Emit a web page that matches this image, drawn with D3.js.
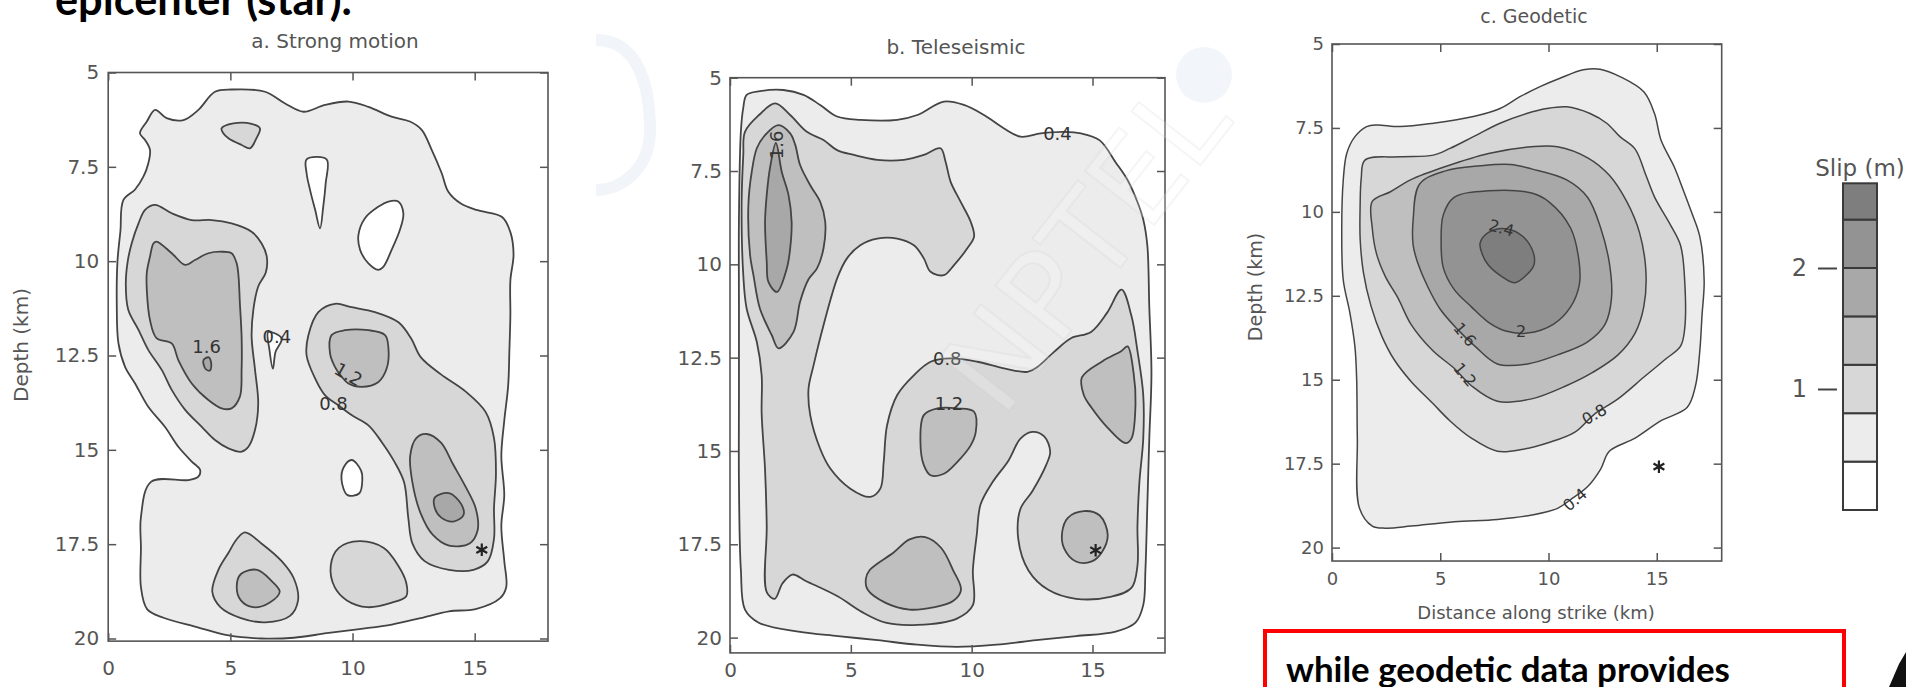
<!DOCTYPE html>
<html>
<head>
<meta charset="utf-8">
<script src="https://cdn.jsdelivr.net/npm/d3@7"></script>
<style>
  body { margin: 0; background: #fff; }
  svg { display: block; }
</style>
</head>
<body>
<svg id="chart" width="1906" height="687"></svg>
<script>
// slip contour levels (m) and the grey used above each level
const levels = [0.4, 0.8, 1.2, 1.6, 2.0, 2.4];
const slipColors = ["#ffffff", "#ececec", "#d7d7d7", "#bfbfbf", "#a8a8a8", "#939393", "#7e7e7e"];
const depthTicks = [5, 7.5, 10, 12.5, 15, 17.5, 20];
const strikeTicks = [0, 5, 10, 15];
const slipTicks = [1, 2];
const slipBandEdges = [0, 0.4, 0.8, 1.2, 1.6, 2.0, 2.4, 2.7];

// contour rings: [slip level, [[km along strike, depth km], ...]]  level 0 = hole below 0.4
const strongRings = [
  [0.4, [[0.62,8.38],[1.1,8.1],[1.44,7.76],[1.64,7.41],[1.71,7.05],[1.51,6.79],[1.3,6.61],[1.58,6.3],[1.92,5.99],[2.39,6.21],[3.08,6.26],[3.69,5.99],[4.37,5.51],[5.05,5.45],[6.42,5.51],[7.24,5.82],[7.99,6.04],[8.87,5.86],[9.83,5.77],[10.65,5.91],[11.6,6.17],[12.35,6.3],[12.83,6.52],[13.24,7.05],[13.65,7.67],[13.92,8.16],[14.45,8.48],[15.12,8.65],[16.12,8.83],[16.46,9.23],[16.59,9.82],[16.46,10.51],[16.46,11.44],[16.42,12.37],[16.37,13.3],[16.21,14.23],[16.09,15.16],[16.21,16.2],[16.09,17.02],[16.21,17.94],[16.29,18.64],[16.04,18.93],[15.04,19.22],[13.95,19.28],[12.78,19.46],[11.61,19.63],[10.28,19.75],[8.94,19.86],[7.6,19.98],[6.27,20.0],[4.93,19.92],[3.59,19.69],[2.26,19.45],[1.59,19.22],[1.34,18.64],[1.34,17.6],[1.34,16.78],[1.75,15.85],[3.28,15.8],[3.69,15.71],[3.76,15.53],[3.42,15.31],[2.87,14.92],[2.32,14.39],[1.64,13.86],[1.1,13.24],[0.69,12.8],[0.42,12.18],[0.35,11.12],[0.38,10.0],[0.5,9.2]]],
  [0, [[8.12,7.3],[8.94,7.3],[8.9,7.94],[8.8,8.56],[8.67,9.13],[8.47,8.64],[8.26,8.11],[8.12,7.67]]],
  [0, [[11.87,8.42],[12.08,8.73],[11.94,9.17],[11.6,9.7],[11.26,10.15],[11.05,10.23],[10.65,10.06],[10.31,9.7],[10.24,9.31],[10.51,8.86],[11.05,8.56],[11.47,8.42]]],
  [0, [[9.97,15.27],[10.35,15.55],[10.4,15.8],[10.28,16.15],[9.8,16.2],[9.55,15.8],[9.65,15.45]]],
  [0, [[6.55,11.88],[7.1,12.05],[6.85,12.4],[6.74,12.85],[6.6,12.35]]],
  [0.8, [[4.64,6.48],[5.12,6.35],[5.87,6.36],[6.21,6.48],[6.07,6.74],[5.8,7.01],[5.46,6.92],[4.92,6.74],[4.71,6.61]]],
  [0.8, [[1.92,8.51],[2.6,8.73],[3.42,8.91],[4.24,8.91],[5.05,9.0],[5.87,9.22],[6.28,9.53],[6.49,9.88],[6.45,10.3],[6.14,10.67],[5.94,11.29],[5.87,12.0],[6.01,12.88],[6.14,13.77],[6.01,14.47],[5.74,14.92],[5.46,15.05],[4.92,14.96],[4.37,14.74],[3.83,14.39],[3.15,13.94],[2.6,13.41],[2.19,12.88],[1.64,12.35],[1.24,11.82],[0.82,11.29],[0.72,10.6],[0.8,10.0],[0.96,9.53],[1.24,9.0],[1.51,8.64]]],
  [0.8, [[9.28,11.13],[9.96,11.22],[10.92,11.35],[11.88,11.62],[12.4,12.05],[12.8,12.55],[13.62,13.0],[14.62,13.45],[15.45,14.0],[15.79,14.69],[15.87,15.62],[15.79,16.55],[15.79,17.36],[15.54,17.95],[14.95,18.18],[13.95,18.18],[12.95,17.95],[12.45,17.48],[12.28,16.79],[12.11,15.86],[11.7,15.3],[11.19,14.79],[10.65,14.35],[9.96,14.08],[9.42,13.82],[8.87,13.55],[8.47,13.11],[8.12,12.5],[8.19,11.97],[8.6,11.35]]],
  [0.8, [[5.6,17.19],[6.27,17.48],[7.1,17.95],[7.6,18.41],[7.77,18.99],[7.44,19.4],[6.43,19.57],[5.43,19.46],[4.59,19.17],[4.26,18.76],[4.51,18.18],[4.93,17.72],[5.26,17.37]]],
  [0.8, [[9.44,17.6],[10.28,17.42],[11.28,17.6],[11.86,18.06],[12.2,18.53],[12.2,18.88],[11.61,19.05],[10.61,19.17],[9.77,18.99],[9.27,18.64],[9.11,18.06]]],
  [1.2, [[1.85,9.53],[1.98,9.48],[2.6,9.79],[3.15,10.1],[3.55,9.97],[4.1,9.79],[4.64,9.75],[5.05,9.79],[5.26,10.06],[5.33,10.37],[5.39,11.12],[5.46,12.0],[5.46,12.88],[5.39,13.59],[5.05,13.9],[4.64,13.9],[4.1,13.68],[3.42,13.24],[2.87,12.62],[2.6,12.18],[1.98,12.04],[1.71,11.56],[1.58,10.76],[1.58,10.3],[1.71,9.88]]],
  [1.2, [[9.14,11.96],[9.69,11.83],[10.65,11.83],[11.33,11.96],[11.47,12.31],[11.4,12.84],[11.06,13.2],[10.37,13.33],[9.83,13.24],[9.55,13.06],[9.28,12.8],[9.08,12.45]]],
  [1.2, [[12.61,14.69],[13.03,14.58],[13.62,14.81],[14.12,15.39],[14.62,15.97],[15.04,16.55],[15.12,17.13],[14.79,17.48],[13.95,17.54],[13.28,17.25],[12.78,16.67],[12.45,15.86],[12.36,15.16]]],
  [1.2, [[5.43,18.29],[6.1,18.18],[6.68,18.47],[7.02,18.76],[6.6,19.05],[5.93,19.17],[5.43,18.99],[5.26,18.64]]],
  [1.6, [[3.9,12.62],[4.12,12.55],[4.22,12.75],[4.15,12.9],[3.98,12.85]]],
  [1.6, [[13.37,16.26],[13.95,16.15],[14.45,16.44],[14.54,16.73],[14.12,16.9],[13.62,16.79],[13.37,16.55]]]
];
const strongLabels = [["1.6", 4.03, 12.27, 0], ["0.4", 6.9, 12.0, 0], ["1.2", 9.83, 13.0, 30], ["0.8", 9.22, 13.77, 0]];
const strongStar = [15.29, 17.65];

const teleRings = [
  [0.4, [[0.69,5.46],[1.24,5.36],[2.21,5.33],[3.04,5.46],[3.73,5.73],[4.43,6.04],[5.39,6.13],[6.92,6.13],[7.75,6.0],[8.85,5.64],[9.68,5.73],[10.51,6.0],[11.34,6.36],[12.03,6.58],[12.86,6.49],[13.83,6.45],[14.52,6.49],[15.3,6.68],[15.96,7.27],[16.45,7.74],[16.86,8.33],[17.1,8.8],[17.27,9.5],[17.35,11.14],[17.44,12.91],[17.35,14.67],[17.27,16.43],[17.19,18.19],[17.1,19.13],[16.78,19.6],[15.96,19.84],[14.32,19.96],[12.67,20.07],[11.03,20.19],[9.39,20.25],[7.75,20.19],[6.11,20.07],[4.47,19.96],[2.83,19.84],[1.19,19.6],[0.62,19.25],[0.45,18.19],[0.37,15.84],[0.37,13.49],[0.37,11.14],[0.37,8.79],[0.45,6.44],[0.55,5.8]]],
  [0.8, [[1.87,5.69],[2.49,6.0],[3.18,6.45],[3.87,6.67],[4.43,6.94],[5.12,7.07],[6.09,7.2],[7.19,7.2],[8.02,7.07],[8.71,6.89],[8.92,7.25],[9.13,7.79],[9.54,8.32],[9.96,8.86],[10.1,9.26],[9.82,9.57],[9.27,10.02],[8.85,10.29],[8.3,10.2],[8.02,9.84],[7.61,9.49],[6.92,9.31],[6.09,9.31],[5.39,9.49],[4.84,9.84],[4.45,10.35],[3.87,11.63],[3.46,12.7],[3.25,13.33],[3.32,14.04],[3.73,14.94],[4.15,15.47],[4.98,16.01],[5.81,16.23],[6.22,16.01],[6.36,15.29],[6.5,14.31],[6.92,13.5],[7.61,12.97],[8.3,12.61],[9.13,12.52],[10.24,12.61],[11.34,12.79],[12.31,12.88],[12.72,12.75],[13.42,12.34],[14.11,11.98],[14.94,11.81],[15.6,11.3],[16.2,10.68],[16.61,11.38],[16.86,12.32],[17.1,13.5],[17.1,14.67],[16.94,15.84],[16.86,17.02],[16.86,18.08],[16.61,18.67],[15.79,18.9],[14.32,18.96],[13.17,18.72],[12.35,18.2],[11.93,17.37],[12.02,16.55],[12.51,16.08],[13.08,15.38],[13.25,15.02],[13.0,14.61],[12.51,14.49],[12.02,14.67],[11.52,15.26],[10.86,15.84],[10.37,16.43],[10.21,17.25],[10.05,18.19],[10.05,19.13],[9.39,19.49],[7.75,19.66],[6.44,19.6],[5.45,19.31],[4.47,18.9],[3.16,18.49],[2.58,18.31],[2.17,18.55],[1.85,18.96],[1.52,18.78],[1.52,17.02],[1.45,15.5],[1.31,14.0],[1.31,12.97],[1.11,12.08],[0.69,11.19],[0.55,10.29],[0.48,8.41],[0.55,7.07],[0.62,6.45],[1.2,6.0]]],
  [1.2, [[2.0,6.27],[2.49,6.49],[2.7,6.8],[2.9,7.34],[3.32,7.88],[3.73,8.32],[3.94,8.86],[3.87,9.57],[3.6,10.11],[3.25,10.4],[2.9,11.0],[2.63,11.81],[2.01,12.25],[1.73,11.9],[1.24,11.19],[0.97,10.29],[0.83,9.75],[0.76,8.41],[0.9,7.52],[1.11,6.89],[1.45,6.54]]],
  [1.2, [[5.78,18.19],[6.77,17.72],[7.43,17.37],[8.08,17.31],[8.74,17.6],[9.23,18.19],[9.56,18.72],[9.23,19.02],[8.41,19.19],[7.43,19.25],[6.44,19.07],[5.7,18.72],[5.62,18.43]]],
  [1.2, [[8.02,14.04],[8.58,13.86],[9.41,13.86],[10.1,13.95],[10.17,14.49],[9.96,14.85],[9.41,15.29],[8.85,15.61],[8.3,15.65],[8.02,15.38],[7.88,14.76]]],
  [1.2, [[14.56,13.03],[15.4,12.6],[16.2,12.32],[16.45,12.2],[16.7,12.91],[16.78,13.73],[16.61,14.67],[16.37,14.79],[15.63,14.38],[14.97,13.85],[14.64,13.5]]],
  [1.2, [[13.98,16.79],[14.64,16.61],[15.3,16.73],[15.63,17.25],[15.38,17.72],[14.97,17.96],[14.32,17.96],[13.82,17.6],[13.74,17.2]]],
  [1.6, [[1.9,6.75],[2.14,7.52],[2.42,8.14],[2.55,8.86],[2.49,9.57],[2.35,10.11],[1.94,10.74],[1.59,10.47],[1.52,9.93],[1.45,8.86],[1.52,8.14],[1.66,7.4]]]
];
const teleLabels = [["0.4", 13.55, 6.49, 0], ["1.6", 1.94, 6.8, -90], ["0.8", 8.99, 12.52, 0], ["1.2", 9.06, 13.73, 0]];
const teleStar = [15.13, 17.66];

const geoRings = [
  [0.4, [[1.06,7.76],[1.6,7.46],[2.06,7.41],[3.14,7.46],[4.68,7.36],[6.53,7.16],[7.76,6.92],[8.68,6.57],[9.61,6.27],[10.53,6.02],[11.61,5.77],[12.38,5.75],[13.3,5.97],[14.41,6.43],[14.9,7.08],[15.2,7.87],[15.8,8.65],[16.2,9.31],[16.6,10.0],[16.99,10.74],[17.19,12.05],[17.09,13.09],[16.99,14.13],[16.79,15.18],[16.4,15.83],[15.2,16.22],[14.0,16.74],[12.81,17.13],[12.41,17.66],[11.81,18.18],[11.02,18.57],[10.42,18.83],[9.23,19.03],[7.64,19.16],[5.65,19.23],[3.66,19.36],[2.47,19.42],[1.86,19.36],[1.27,18.83],[1.17,16.74],[1.14,15.01],[1.06,14.02],[0.83,13.02],[0.52,12.03],[0.45,10.54],[0.52,9.05],[0.68,8.26]]],
  [0.8, [[1.52,8.46],[3.14,8.36],[4.68,8.31],[5.45,8.11],[6.53,7.76],[7.76,7.36],[8.99,7.07],[9.92,6.92],[10.84,6.87],[11.92,7.07],[12.69,7.36],[13.3,7.76],[14.0,8.13],[14.5,8.91],[14.9,9.56],[15.6,10.35],[16.1,11.0],[16.29,12.05],[16.29,13.48],[16.1,14.0],[15.4,14.39],[14.41,14.92],[13.21,15.57],[12.11,16.03],[11.22,16.56],[10.02,16.87],[8.83,17.07],[7.64,17.13],[6.44,16.74],[5.44,16.22],[4.65,15.7],[3.65,15.05],[2.86,14.39],[2.3,13.7],[1.8,12.8],[1.45,11.8],[1.3,10.8],[1.3,9.8],[1.35,9.0]]],
  [1.2, [[1.86,9.69],[2.7,9.4],[3.65,9.04],[5.24,8.65],[7.23,8.26],[9.22,8.06],[10.42,8.06],[11.81,8.39],[12.81,8.91],[13.61,9.69],[14.2,10.61],[14.5,11.78],[14.4,12.83],[14.0,13.61],[13.21,14.26],[12.02,14.79],[10.82,15.18],[9.22,15.57],[7.64,15.64],[6.44,15.18],[5.64,14.66],[4.65,14.13],[3.65,13.35],[3.05,12.57],[2.46,11.92],[2.06,11.26],[1.86,10.48]]],
  [1.6, [[3.75,10.22],[4.05,9.17],[5.24,8.78],[6.84,8.63],[8.23,8.59],[9.22,8.72],[10.82,9.04],[11.81,9.57],[12.41,10.48],[12.81,11.52],[12.91,12.57],[12.61,13.35],[11.81,13.87],[10.42,14.26],[9.03,14.53],[7.64,14.53],[6.6,14.0],[5.8,13.5],[5.0,12.9],[4.4,12.2],[3.95,11.5],[3.75,11.0]]],
  [2.0, [[5.14,10.09],[5.64,9.57],[7.23,9.37],[9.22,9.44],[10.02,9.7],[11.02,10.48],[11.42,11.52],[11.42,12.18],[11.02,12.83],[10.22,13.35],[9.03,13.61],[8.03,13.55],[7.23,13.29],[6.44,12.83],[5.64,12.31],[5.14,11.66],[5.04,10.87]]],
  [2.4, [[6.84,10.93],[7.23,10.61],[8.03,10.5],[8.83,10.74],[9.32,11.26],[9.32,11.59],[9.03,11.85],[8.43,12.11],[7.83,11.92],[7.23,11.59],[6.94,11.26]]]
];
const geoLabels = [["2.4", 7.83, 10.48, 15], ["2", 8.73, 13.55, 0], ["1.6", 6.14, 13.65, 50], ["1.2", 6.14, 14.85, 50], ["0.8", 12.11, 16.03, -30], ["0.4", 11.22, 18.57, -40]];
const geoStar = [15.1, 17.59];

const svg = d3.select("#chart");
const slipColor = d3.scaleThreshold().domain(levels).range(slipColors);

// faint slide watermark
const wm = svg.append("g").attr("fill", "none").attr("stroke", "#f1f5f9").attr("stroke-width", 12);
wm.append("circle").attr("cx", 1204).attr("cy", 75).attr("r", 28).attr("fill", "#f2f6fa").attr("stroke", "none");
wm.append("path").attr("d", "M596,40 C640,40 650,90 650,130 C650,170 620,190 596,190");

// layout of the three pasted figures
const panels = [
  { title: "a. Strong motion", rings: strongRings, labels: strongLabels, star: strongStar,
    left: 108.2, right: 548, top: 72.5, y20: 638.5, depthMax: 20.07,
    fs: 20, tfs: 20, lfs: 18, lw: 1.8, titleX: 335, titleY: 48, xPad: 20, yPad: 9,
    yTitle: [21, 345], xTitle: null },
  { title: "b. Teleseismic", rings: teleRings, labels: teleLabels, star: teleStar,
    left: 730, right: 1165, top: 77.7, y20: 637.6, depthMax: 20.41,
    fs: 20, tfs: 20, lfs: 18, lw: 1.8, titleX: 956, titleY: 54, xPad: 10, yPad: 8,
    yTitle: null, xTitle: null },
  { title: "c. Geodetic", rings: geoRings, labels: geoLabels, star: geoStar,
    left: 1332, right: 1721.7, top: 44, y20: 547.6, depthMax: 20.4,
    fs: 18, tfs: 19, lfs: 16, lw: 1.5, titleX: 1534, titleY: 23, xPad: 11, yPad: 8,
    yTitle: [1255, 287], xTitle: [1536, 619] }
];

panels.forEach((p, i) => {
  const x = d3.scaleLinear().domain([0, 18]).range([p.left, p.right]);
  const y = d3.scaleLinear().domain([5, 20]).range([p.top, p.y20]);
  const g = svg.append("g").style("font-family", "'DejaVu Sans', sans-serif");

  g.append("clipPath").attr("id", "clip" + i)
    .append("rect").attr("x", x(0)).attr("y", y(5))
    .attr("width", x(18) - x(0)).attr("height", y(p.depthMax) - y(5));

  const ring = d3.line()
    .x((d) => x(d[0]))
    .y((d) => y(d[1]))
    .curve(d3.curveCatmullRomClosed.alpha(0.5));

  g.append("g").attr("clip-path", `url(#clip${i})`)
    .selectAll("path")
    .data(p.rings)
    .enter()
    .append("path")
    .attr("d", (d) => ring(d[1]))
    .attr("fill", (d) => slipColor(d[0]))
    .attr("stroke", "#444")
    .attr("stroke-width", p.lw)
    .attr("stroke-linejoin", "round");

  // contour labels sit right on their line
  g.selectAll(".clabel")
    .data(p.labels)
    .enter()
    .append("text")
    .attr("class", "clabel")
    .attr("transform", (d) => `translate(${x(d[1])},${y(d[2])}) rotate(${d[3]})`)
    .attr("text-anchor", "middle")
    .attr("dy", "0.35em")
    .attr("font-size", p.lfs)
    .attr("fill", "#333")
    .text((d) => d[0]);

  g.append("path")
    .attr("transform", `translate(${x(p.star[0])},${y(p.star[1])})`)
    .attr("d", d3.symbol().type(d3.symbolAsterisk).size(110)())
    .attr("fill", "none")
    .attr("stroke", "#222")
    .attr("stroke-width", 2.2);

  // inward ticks on all four sides
  const yEnd = y(p.depthMax);
  const axes = [
    [d3.axisLeft(y).tickValues(depthTicks).tickFormat(d3.format("")), `translate(${x(0)},0)`, p.yPad],
    [d3.axisRight(y).tickValues(depthTicks).tickFormat(""), `translate(${x(18)},0)`, 0],
    [d3.axisBottom(x).tickValues(strikeTicks), `translate(0,${yEnd})`, p.xPad],
    [d3.axisTop(x).tickValues(strikeTicks).tickFormat(""), `translate(0,${y(5)})`, 0]
  ];
  axes.forEach(([axis, tr, pad]) => {
    const a = g.append("g").attr("transform", tr).call(axis.tickSize(-8).tickPadding(pad));
    a.select(".domain").remove();
    a.selectAll("line").attr("stroke", "#555").attr("stroke-width", 1.5);
    a.selectAll("text").attr("font-size", p.fs).attr("fill", "#555").style("font-family", "'DejaVu Sans', sans-serif");
  });

  g.append("rect")
    .attr("x", x(0)).attr("y", y(5))
    .attr("width", x(18) - x(0)).attr("height", yEnd - y(5))
    .attr("fill", "none").attr("stroke", "#555").attr("stroke-width", 1.6);

  g.append("text").attr("x", p.titleX).attr("y", p.titleY)
    .attr("text-anchor", "middle").attr("font-size", p.tfs).attr("fill", "#555").text(p.title);

  if (p.yTitle) {
    g.append("text")
      .attr("transform", `translate(${p.yTitle[0]},${p.yTitle[1]}) rotate(-90)`)
      .attr("text-anchor", "middle").attr("dy", "0.35em")
      .attr("font-size", p.tfs).attr("fill", "#555").text("Depth (km)");
  }
  if (p.xTitle) {
    g.append("text").attr("x", p.xTitle[0]).attr("y", p.xTitle[1])
      .attr("text-anchor", "middle").attr("font-size", p.fs).attr("fill", "#555")
      .text("Distance along strike (km)");
  }
});

// slip colour bar
const slipY = d3.scaleLinear().domain([0, 1]).range([510, 389]);
const bar = svg.append("g").style("font-family", "'DejaVu Sans', sans-serif");
bar.selectAll("rect")
  .data(d3.pairs(slipBandEdges))
  .enter()
  .append("rect")
  .attr("x", 1843)
  .attr("width", 34)
  .attr("y", (d) => slipY(d[1]))
  .attr("height", (d) => slipY(d[0]) - slipY(d[1]))
  .attr("fill", (d) => slipColor(d[0]))
  .attr("stroke", "#3a3a3a")
  .attr("stroke-width", 2);
const barAxis = bar.append("g").attr("transform", "translate(1837,0)")
  .call(d3.axisLeft(slipY).tickValues(slipTicks).tickFormat(d3.format("d")).tickSize(19).tickPadding(11));
barAxis.select(".domain").remove();
barAxis.selectAll("line").attr("stroke", "#444").attr("stroke-width", 2);
barAxis.selectAll("text").attr("font-size", 24).attr("fill", "#555").style("font-family", "'DejaVu Sans', sans-serif");
bar.append("text").attr("x", 1860).attr("y", 176).attr("text-anchor", "middle")
  .attr("font-size", 23).attr("fill", "#555").text("Slip (m)");

// watermark word across the middle figures
svg.append("text")
  .attr("transform", "translate(1085,245) rotate(-52)")
  .attr("text-anchor", "middle").attr("dy", "0.35em")
  .attr("font-family", "'DejaVu Sans', sans-serif").attr("font-size", 120)
  .attr("fill", "rgba(255,255,255,0.2)").attr("stroke", "rgba(200,200,200,0.18)").attr("stroke-width", 2)
  .text("NPTEL");

// slide text around the figures
function fitText(sel, width) {
  const w = sel.node().getComputedTextLength();
  sel.attr("font-size", (parseFloat(sel.attr("font-size")) * width) / w);
}
const slide = svg.append("g").style("font-family", "Lato, 'Open Sans', sans-serif").attr("font-weight", 700);
fitText(slide.append("text").attr("x", 55).attr("y", 15).attr("font-size", 28).attr("fill", "#000").text("epicenter (star)."), 297);

slide.append("rect").attr("x", 1265).attr("y", 631).attr("width", 579).attr("height", 80)
  .attr("fill", "none").attr("stroke", "#ff0000").attr("stroke-width", 4);
fitText(slide.append("text").attr("x", 1286).attr("y", 682).attr("font-size", 28).attr("fill", "#000").text("while geodetic data provides"), 444);

slide.append("path").attr("d", "M1906,652 L1906,687 L1889,687 L1899,664 Z").attr("fill", "#111");
</script>
</body>
</html>
